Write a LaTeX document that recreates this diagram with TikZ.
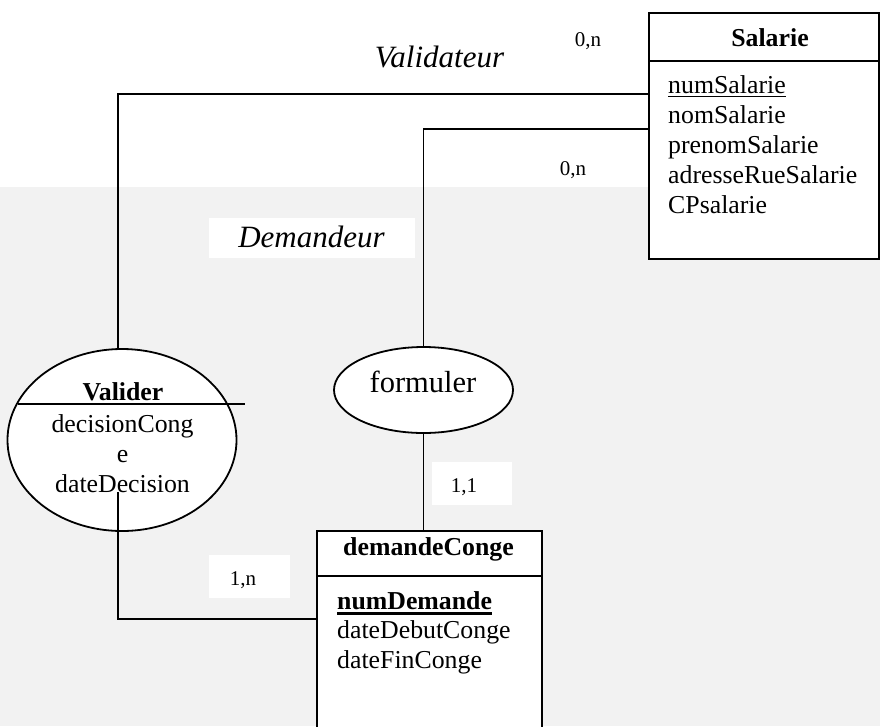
\documentclass[tikz,border=0pt]{standalone}
\usepackage{fontspec}
\setmainfont{Liberation Serif}
\usetikzlibrary{shapes.geometric}
\tikzset{
  conn/.style={line width=1.8pt},
  box/.style={draw, line width=1.8pt, fill=white, anchor=north west, inner sep=0pt},
  oval/.style={draw, ellipse, line width=1.8pt, fill=white, inner sep=0pt},
  attr/.style={anchor=base west, inner sep=0pt, font=\fontsize{25.8}{30}\selectfont},
  cattr/.style={anchor=base, inner sep=0pt, font=\fontsize{25.8}{30}\selectfont},
  ttl/.style={anchor=base, inner sep=0pt, font=\fontsize{25.8}{30}\selectfont\bfseries},
  card/.style={anchor=base, inner sep=0pt, font=\fontsize{21}{24}\selectfont},
  role/.style={anchor=base, inner sep=0pt, font=\itshape\fontsize{31}{35}\selectfont},
  relname/.style={anchor=base, inner sep=0pt, font=\fontsize{30.5}{35}\selectfont},
  whitebox/.style={fill=white, inner sep=0pt, anchor=north west},
}
\begin{document}
\begin{tikzpicture}[x=1pt, y=-1pt]
\clip (0,0) rectangle (880,726);
\fill[white] (0,0) rectangle (880,726);
\fill[black!5] (0,187) rectangle (880,726);

% label boxes
\node[whitebox, minimum width=206pt, minimum height=40pt] (demb) at (209,218) {};
\node[whitebox, minimum width=80pt, minimum height=43pt] (c3b) at (432,462) {};
\node[whitebox, minimum width=81pt, minimum height=43pt] (c4b) at (209,555) {};

% Salarie
\node[box, minimum width=230pt, minimum height=48pt] (salh) at (648,12) {};
\node[box, minimum width=230pt, minimum height=198pt] (salb) at (648,60) {};
\node[ttl] (salt) at (770,46) {Salarie};
\node[attr] (a1) at (668,93) {numSalarie};
\draw[line width=1.3pt] ([yshift=-3.5pt]a1.base west) -- ([yshift=-3.5pt]a1.base east);
\node[attr] (a2) at (668,123) {nomSalarie};
\node[attr] (a3) at (668,153) {prenomSalarie};
\node[attr] (a4) at (668,183) {adresseRueSalarie};
\node[attr] (a5) at (668,213) {CPsalarie};

% demandeConge
\node[box, minimum width=225pt, minimum height=45pt] (dch) at (316,530) {};
\node[box, minimum width=225pt, minimum height=175pt] (dcb) at (316,575) {};
\node[ttl] (dct) at (428.5,555) {demandeConge};
\node[attr] (d1) at (337,609) {\bfseries numDemande};
\draw[line width=2.4pt] ([yshift=-4.5pt]d1.base west) -- ([yshift=-4.5pt]d1.base east);
\node[attr] (d2) at (337,638) {dateDebutConge};
\node[attr] (d3) at (337,668) {dateFinConge};

% Valider
\node[oval, minimum width=229pt, minimum height=182pt] (valider) at (122,440) {};
\draw[line width=1.8pt] (18,404) -- (245,404);
\node[ttl] (vt) at (123,400) {Valider};
\node[cattr] (v1) at (122.5,432) {decisionCong};
\node[cattr] (v2) at (122.5,462) {e};
\node[cattr] (v3) at (122.5,492) {dateDecision};

% formuler
\node[oval, minimum width=179pt, minimum height=86pt] (formuler) at (423.5,390) {};
\node[relname] (ft) at (423,392) {formuler};

% connectors
\draw[conn] (salb.west |- 0,94) -| ([xshift=-4pt]valider.north);
\draw[conn] (salb.west |- 0,129) -| (formuler.north);
\draw[conn] (formuler.south) -- (formuler.south |- dch.north);
\coordinate (vstart) at (118,492);
\draw[conn] (vstart) |- (dcb.west |- 0,619);

% role and cardinality labels
\node[role] (val) at (439.5,67) {Validateur};
\node[role] (dem) at (311.5,247) {Demandeur};
\node[card] (c1) at (588,46) {0,n};
\node[card] (c2) at (573,175) {0,n};
\node[card] (c3) at (464,492) {1,1};
\node[card] (c4) at (243,585) {1,n};
\end{tikzpicture}
\end{document}
